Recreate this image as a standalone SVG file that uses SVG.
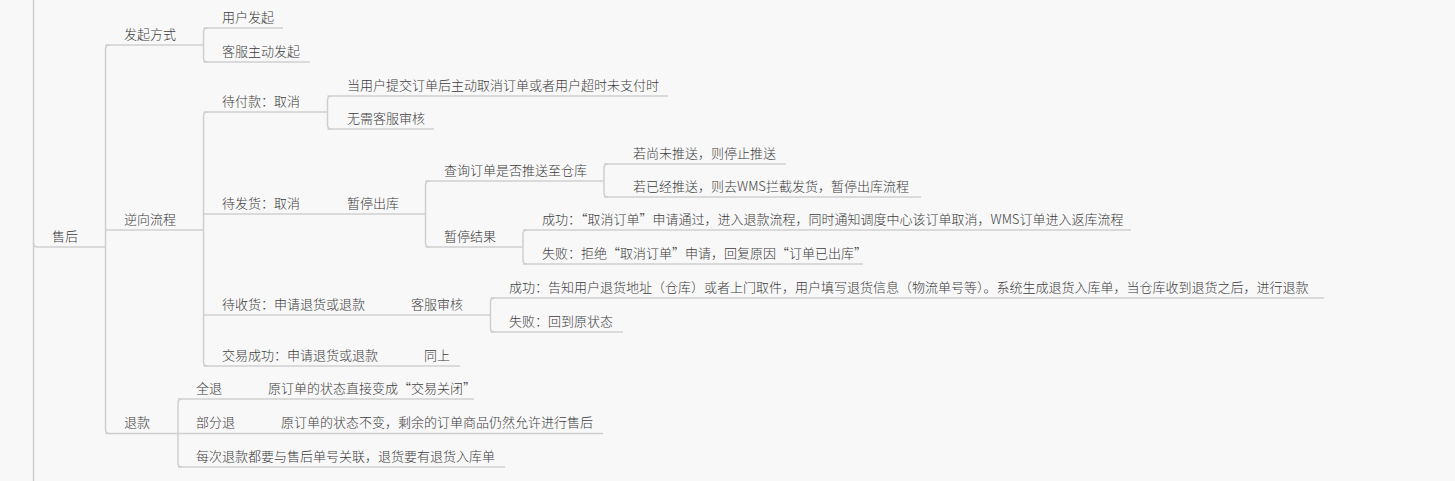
<svg xmlns="http://www.w3.org/2000/svg" width="1455" height="481" viewBox="0 0 1455 481">
<style>
text{font-family:"Noto Sans CJK SC","Liberation Sans",sans-serif;font-size:13px;fill:#3c3c3c;font-weight:300}
.c{fill:none;stroke:#cfcfcf;stroke-width:1.5}
</style>
<rect width="1455" height="481" fill="#f8f8f8"/>
<g id="connectors">
<path class="c" d="M33.5,0V481"/>
<path class="c" d="M33.5,243Q33.5,247 37.5,247H105.5"/>
<path class="c" d="M109.5,45Q105.5,45 105.5,49V429.5Q105.5,433.5 109.5,433.5"/>
<path class="c" d="M105.5,45H203.5M105.5,230H203.5M105.5,433.5H178"/>
<path class="c" d="M207.5,28Q203.5,28 203.5,32V58Q203.5,62 207.5,62"/>
<path class="c" d="M203.5,28H283M203.5,62H310"/>
<path class="c" d="M207.5,112Q203.5,112 203.5,116V362Q203.5,366 207.5,366"/>
<path class="c" d="M203.5,112H327.5M203.5,214H425.5M203.5,315H490.5M203.5,366H460"/>
<path class="c" d="M331.5,96Q327.5,96 327.5,100V125Q327.5,129 331.5,129"/>
<path class="c" d="M327.5,96H668M327.5,129H434"/>
<path class="c" d="M429.5,181Q425.5,181 425.5,185V243Q425.5,247 429.5,247"/>
<path class="c" d="M425.5,181H604M425.5,247H523"/>
<path class="c" d="M608,164Q604,164 604,168V193Q604,197 608,197"/>
<path class="c" d="M604,164H786M604,197H921"/>
<path class="c" d="M527,230Q523,230 523,234V260Q523,264 527,264"/>
<path class="c" d="M523,230H1131M523,264H863"/>
<path class="c" d="M494.5,298Q490.5,298 490.5,302V328Q490.5,332 494.5,332"/>
<path class="c" d="M490.5,298H1324M490.5,332H623"/>
<path class="c" d="M182,399Q178,399 178,403V463Q178,467 182,467"/>
<path class="c" d="M178,399H474M178,433.5H603M178,467H505"/>
</g>
<g id="n-root"><text x="52" y="241">售后</text></g>
<g id="n-fqfs"><text x="124" y="39">发起方式</text></g>
<g id="n-yhfq"><text x="222" y="22">用户发起</text></g>
<g id="n-kffq"><text x="222" y="56">客服主动发起</text></g>
<g id="n-nxlc"><text x="124" y="224">逆向流程</text></g>
<g id="n-dfk"><text x="222" y="106">待付款：取消</text></g>
<g id="n-dfk1"><text x="347" y="90">当用户提交订单后主动取消订单或者用户超时未支付时</text></g>
<g id="n-dfk2"><text x="347" y="123">无需客服审核</text></g>
<g id="n-dfh"><text x="222" y="208">待发货：取消</text></g>
<g id="n-ztck"><text x="347" y="208">暂停出库</text></g>
<g id="n-cx"><text x="444" y="175">查询订单是否推送至仓库</text></g>
<g id="n-cx1"><text x="633" y="158">若尚未推送，则停止推送</text></g>
<g id="n-cx2"><text x="633" y="191">若已经推送，则去WMS拦截发货，暂停出库流程</text></g>
<g id="n-ztjg"><text x="444" y="241">暂停结果</text></g>
<g id="n-zt1"><text x="542" y="224">成功：“取消订单”申请通过，进入退款流程，同时通知调度中心该订单取消，WMS订单进入返库流程</text></g>
<g id="n-zt2"><text x="542" y="258">失败：拒绝“取消订单”申请，回复原因“订单已出库”</text></g>
<g id="n-dsh"><text x="222" y="309">待收货：申请退货或退款</text></g>
<g id="n-kfsh"><text x="411" y="309">客服审核</text></g>
<g id="n-sh1"><text x="509" y="292">成功：告知用户退货地址（仓库）或者上门取件，用户填写退货信息（物流单号等）。系统生成退货入库单，当仓库收到退货之后，进行退款</text></g>
<g id="n-sh2"><text x="509" y="326">失败：回到原状态</text></g>
<g id="n-jycg"><text x="222" y="360">交易成功：申请退货或退款</text></g>
<g id="n-ts"><text x="424" y="360">同上</text></g>
<g id="n-tk"><text x="124" y="427">退款</text></g>
<g id="n-qt"><text x="196" y="393">全退</text></g>
<g id="n-qt1"><text x="268" y="393">原订单的状态直接变成“交易关闭”</text></g>
<g id="n-bft"><text x="196" y="427">部分退</text></g>
<g id="n-bft1"><text x="281" y="427">原订单的状态不变，剩余的订单商品仍然允许进行售后</text></g>
<g id="n-mc"><text x="196" y="461">每次退款都要与售后单号关联，退货要有退货入库单</text></g>
</svg>
